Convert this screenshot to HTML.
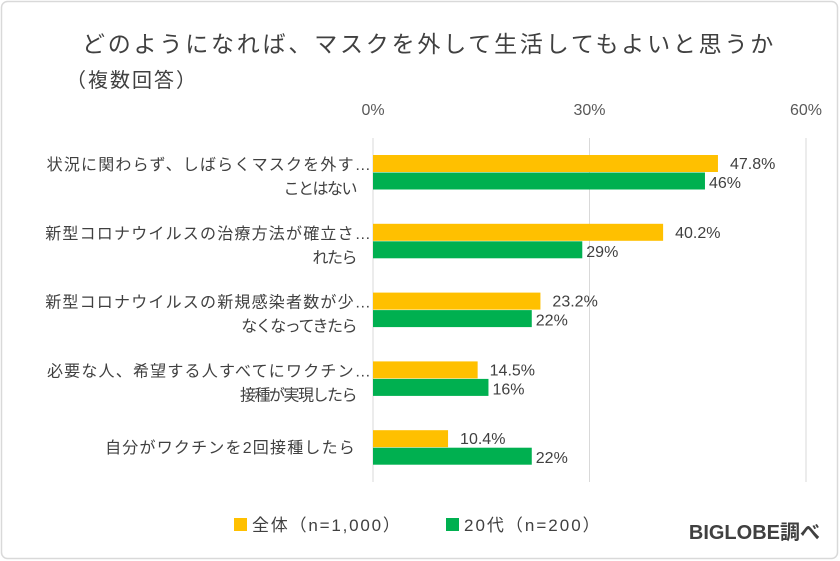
<!DOCTYPE html>
<html><head><meta charset="utf-8"><style>
html,body{margin:0;padding:0;background:#fff;}
svg{display:block;font-family:"Liberation Sans","Noto Sans CJK JP",sans-serif;}
</style></head><body>
<svg id="chart" width="840" height="561" viewBox="0 0 840 561">
<rect x="1.5" y="1.5" width="836" height="557" rx="6" fill="#fff" stroke="#d9d9d9" stroke-width="1.5"/>
<text x="82" y="52" font-size="23" letter-spacing="2.8" fill="#404040">どのようになれば、マスクを外して生活してもよいと思うか</text>
<text x="66" y="87" font-size="20" letter-spacing="2" fill="#404040">（複数回答）</text>
<g id="grid"></g><g id="bars"></g><g id="cats"></g>
<g>
<rect x="234" y="518" width="13" height="13" fill="#FFC000"/>
<text x="252" y="531" font-size="17" letter-spacing="1.8" fill="#404040">全体（n=1,000）</text>
<rect x="446" y="518" width="13" height="13" fill="#00B050"/>
<text x="464" y="531" font-size="17" letter-spacing="2" fill="#404040">20代（n=200）</text>
</g>
<text x="820" y="539" font-size="20" font-weight="bold" fill="#404040" text-anchor="end">BIGLOBE調べ</text>
</svg>
<script>
const categories=[["状況に関わらず、しばらくマスクを外す…","ことはない"],["新型コロナウイルスの治療方法が確立さ…","れたら"],["新型コロナウイルスの新規感染者数が少…","なくなってきたら"],["必要な人、希望する人すべてにワクチン…","接種が実現したら"],["自分がワクチンを2回接種したら"]];
const allValues=[47.8,40.2,23.2,14.5,10.4];
const allLabels=["47.8%","40.2%","23.2%","14.5%","10.4%"];
const teenValues=[46,29,22,16,22];
const teenLabels=["46%","29%","22%","16%","22%"];
const ticks=[0,30,60];
const tickLabels=["0%","30%","60%"];
const NS="http://www.w3.org/2000/svg";
const x=v=>373+v*(806-373)/60;
const y=i=>155+i*68.8;
function mk(tag,attrs,parent,txt){const e=document.createElementNS(NS,tag);for(const k in attrs)e.setAttribute(k,attrs[k]);if(txt!=null)e.textContent=txt;document.getElementById(parent).appendChild(e);return e;}
ticks.forEach((t,i)=>{
 const l=mk('line',{x1:x(t),x2:x(t),y1:138,y2:482,stroke:'#d9d9d9','stroke-width':1},'grid');
 
 
 const tx=mk('text',{x:x(t),y:115,'font-size':16,fill:'#595959','text-anchor':'middle'},'grid',tickLabels[i]);
 
 
});
categories.forEach((c,i)=>{
 const b1=mk('rect',{x:x(0),y:y(i),width:x(allValues[i])-x(0),height:17,fill:'#FFC000'},'bars');
 
 
 const b2=mk('rect',{x:x(0),y:y(i)+17.5,width:x(teenValues[i])-x(0),height:17,fill:'#00B050'},'bars');
 
 
 const l1=mk('text',{x:x(allValues[i])+12,y:y(i)+14,'font-size':16,fill:'#404040'},'bars',allLabels[i]);
 
 
 const l2=mk('text',{x:x(teenValues[i])+4,y:y(i)+33,'font-size':16,fill:'#404040'},'bars',teenLabels[i]);
 
 
 const cy=c.length===2?y(i)+15:y(i)+23;
 c.forEach((line,j)=>{
  const first=j===0;
  const t=mk('text',{x:first?(c.length===2?372:356):356,y:cy+j*24,'font-size':16,'letter-spacing':first?1.2:-1.5,fill:'#404040','text-anchor':'end'},'cats',line);
  
  
 });
});
</script>
</body></html>
